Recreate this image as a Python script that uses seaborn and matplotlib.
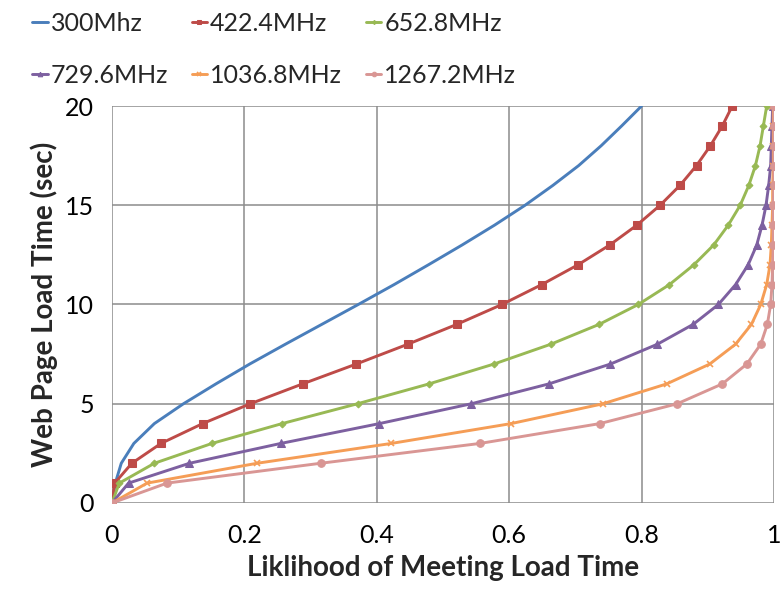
import numpy as np
import pandas as pd
import matplotlib
matplotlib.use("Agg")
import matplotlib.pyplot as plt
import seaborn as sns

# Load time targets (sec) and likelihood of meeting each target per CPU frequency
load_time = list(range(0, 21))

freq_300 = [0.0, 0.005, 0.014, 0.033, 0.064, 0.108, 0.157, 0.208, 0.262, 0.317, 0.372,
            0.426, 0.478, 0.529, 0.578, 0.624, 0.666, 0.705, 0.739, 0.770, 0.800]
freq_422 = [0.0, 0.004, 0.030, 0.074, 0.137, 0.209, 0.288, 0.369, 0.447, 0.521, 0.589,
            0.649, 0.704, 0.752, 0.793, 0.828, 0.858, 0.883, 0.904, 0.922, 0.937]
freq_652 = [0.0, 0.011, 0.064, 0.151, 0.257, 0.371, 0.479, 0.577, 0.663, 0.736, 0.795,
            0.842, 0.879, 0.909, 0.931, 0.949, 0.962, 0.972, 0.979, 0.984, 0.989]
freq_729 = [0.0, 0.025, 0.117, 0.255, 0.404, 0.543, 0.660, 0.753, 0.824, 0.878, 0.916,
            0.942, 0.961, 0.974, 0.982, 0.988, 0.992, 0.995, 0.996, 0.997, 0.998]
freq_1036 = [0.0, 0.053, 0.219, 0.422, 0.603, 0.742, 0.838, 0.903, 0.942, 0.966, 0.980,
             0.989, 0.994, 0.996, 0.997, 0.998, 0.998, 0.999, 0.999, 0.999, 0.999]
freq_1267 = [0.0, 0.083, 0.315, 0.556, 0.737, 0.854, 0.922, 0.959, 0.980, 0.990, 0.995,
             0.997, 0.998, 0.999, 0.999, 0.999, 1.0, 1.0, 1.0, 1.0, 1.0]

series_labels = ["300Mhz", "422.4MHz", "652.8MHz", "729.6MHz", "1036.8MHz", "1267.2MHz"]
series_values = [freq_300, freq_422, freq_652, freq_729, freq_1036, freq_1267]

x_ticks = [0, 0.2, 0.4, 0.6, 0.8, 1]
x_tick_labels = ["0", "0.2", "0.4", "0.6", "0.8", "1"]
y_ticks = [0, 5, 10, 15, 20]

colors = ["#4A7EBB", "#BE4B48", "#98B954", "#7D60A0", "#F59D56", "#D99694"]
markers = [None, "s", "D", "^", "x", "o"]
marker_sizes = [0, 5.5, 3.5, 5.5, 5, 5.5]
grid_color = "#8C8C8C"

sns.set_theme(style="white")
plt.rcParams["font.family"] = ["Lato", "DejaVu Sans"]

fig = plt.figure(figsize=(7.81, 6.11), dpi=100)
ax = fig.add_axes([0.1434, 0.1768, 0.8476, 0.6497])

for label, vals, c, m, ms in zip(series_labels, series_values, colors, markers, marker_sizes):
    df = pd.DataFrame({"likelihood": vals, "load_time": load_time})
    kw = dict(marker=m, markersize=ms, markeredgecolor=c, markerfacecolor=c) if m else {}
    if m == "x":
        kw["markeredgewidth"] = 1.2
    sns.lineplot(data=df, x="likelihood", y="load_time", ax=ax, color=c, linewidth=2.1,
                 sort=False, estimator=None, label=label, **kw)

ax.set_xlim(0, 1)
ax.set_ylim(0, 20)
ax.set_xticks(x_ticks)
ax.set_xticklabels(x_tick_labels)
ax.set_yticks(y_ticks)
ax.grid(True, color=grid_color, linewidth=1.1)
ax.set_axisbelow(True)
for s in ax.spines.values():
    s.set_visible(False)
ax.tick_params(axis="both", labelsize=18, length=5, width=1.1, color=grid_color,
               direction="out", pad=8, labelcolor="black")
ax.tick_params(axis="x", pad=10)

ax.set_xlabel("Liklihood of Meeting Load Time", fontsize=20, fontweight="bold", labelpad=6)
ax.set_ylabel("Web Page Load Time (sec)", fontsize=20, fontweight="bold", labelpad=5)

# Legend laid out row by row across three columns
handles, labels = ax.get_legend_handles_labels()
ax.legend_.remove()
order = [0, 3, 1, 4, 2, 5]
fig.legend([handles[i] for i in order], [labels[i] for i in order],
           loc="upper left", bbox_to_anchor=(32 / 781, 0.980), ncol=3,
           frameon=False, fontsize=18, handlelength=0.62, handletextpad=0.12,
           columnspacing=0.95, labelspacing=1.15, borderpad=0, borderaxespad=0,
           markerscale=0.6)

fig.savefig("out.png", dpi=100)
